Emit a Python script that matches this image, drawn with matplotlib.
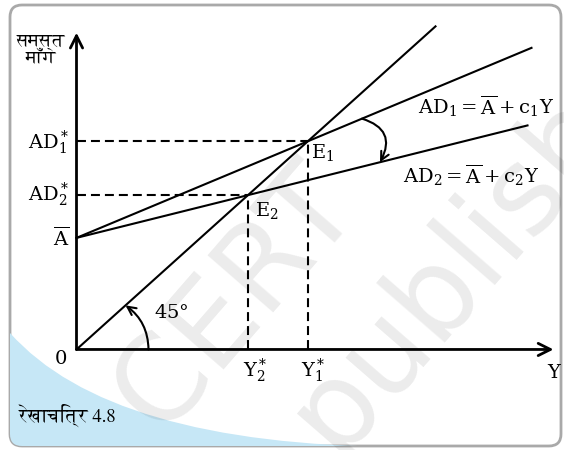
import matplotlib
matplotlib.use('Agg')
import matplotlib.pyplot as plt
from matplotlib.patches import FancyBboxPatch, PathPatch
from matplotlib.path import Path

# values (units chosen so the 45 degree line is AD = Y)
a_bar = 124
c1 = 0.464
c2 = 0.277
end_45 = 359
end_ad1 = 455
end_ad2 = 451
x_axis_end = 477
y_axis_end = 352

y1_star = a_bar / (1 - c1)
y2_star = a_bar / (1 - c2)

lbl_ad1 = r'$\mathrm{AD}_1 = \overline{\mathrm{A}} + \mathrm{c}_1\mathrm{Y}$'
lbl_ad2 = r'$\mathrm{AD}_2 = \overline{\mathrm{A}} + \mathrm{c}_2\mathrm{Y}$'
ylabel_hi = 'समस्त\nमाँग'
caption = 'रेखाचित्र 4.8'
hindi_fam = ['FreeSerif', 'DejaVu Serif']

plt.rcParams['font.family'] = 'DejaVu Serif'
plt.rcParams['mathtext.fontset'] = 'dejavuserif'

fig = plt.figure(figsize=(5.64, 4.5), dpi=100)

# background panel in pixel units
bg = fig.add_axes([0, 0, 1, 1])
bg.set_xlim(0, 564)
bg.set_ylim(450, 0)
bg.axis('off')
frame = FancyBboxPatch((10, 5), 551, 441, boxstyle='round,pad=0,rounding_size=12',
                       fc='white', ec='#a9a9a9', lw=2)
bg.add_patch(frame)
swoosh = Path([(10, 333), (110, 445), (400, 447), (400, 460), (0, 460), (0, 333), (10, 333)],
              [Path.MOVETO, Path.CURVE3, Path.CURVE3, Path.LINETO, Path.LINETO, Path.LINETO,
               Path.CLOSEPOLY])
blue = PathPatch(swoosh, fc='#c6e7f6', ec='none')
bg.add_patch(blue)
blue.set_clip_path(frame)
# faint watermark
bg.text(235, 298, 'CERT', rotation=49, rotation_mode='anchor', ha='center', va='center',
        fontsize=86, family='DejaVu Sans', color='k', alpha=0.08)
bg.text(452, 272, 'publish', rotation=49, rotation_mode='anchor', ha='center', va='center',
        fontsize=86, family='DejaVu Sans', color='k', alpha=0.08)

ax = fig.add_axes([0, 0, 1, 1])
ax.set_xlim(-76.5, 487.5)
ax.set_ylim(-111.7, 388.3)
ax.axis('off')

arrow = dict(arrowstyle='->', lw=2.0, color='k', mutation_scale=22, shrinkA=0, shrinkB=0)
ax.annotate('', xy=(x_axis_end, 0), xytext=(0, 0), arrowprops=arrow)
ax.annotate('', xy=(0, y_axis_end), xytext=(0, 0), arrowprops=arrow)

ax.plot([0, end_45], [0, end_45], color='k', lw=1.5)
ax.plot([0, end_ad1], [a_bar, a_bar + c1 * end_ad1], color='k', lw=1.5)
ax.plot([0, end_ad2], [a_bar, a_bar + c2 * end_ad2], color='k', lw=1.5)

dash = (0, (4.3, 2.4))
for ys in [y1_star, y2_star]:
    ax.plot([0, ys], [ys, ys], color='k', lw=1.5, ls=dash)
    ax.plot([ys, ys], [0, ys], color='k', lw=1.5, ls=dash)

# curved arrows
ax.annotate('', xy=(49, 49), xytext=(72, 0),
            arrowprops=dict(arrowstyle='->', lw=1.5, color='k', mutation_scale=15,
                            connectionstyle='arc3,rad=0.25', shrinkA=0, shrinkB=0))
xa, xb = 285.5, 303.5
ax.annotate('', xy=(xb, a_bar + c2 * xb), xytext=(xa, a_bar + c1 * xa),
            arrowprops=dict(arrowstyle='->', lw=1.5, color='k', mutation_scale=15,
                            connectionstyle='arc3,rad=-0.6', shrinkA=0, shrinkB=0))

fs = 14
ax.annotate(r'$\mathrm{AD}_1^*$', xy=(0, y1_star), xytext=(-5, -1), textcoords='offset points',
            ha='right', va='center', fontsize=fs)
ax.annotate(r'$\mathrm{AD}_2^*$', xy=(0, y2_star), xytext=(-5, 0), textcoords='offset points',
            ha='right', va='center', fontsize=fs)
ax.annotate(r'$\overline{\mathrm{A}}$', xy=(0, a_bar), xytext=(-5, 0), textcoords='offset points',
            ha='right', va='center', fontsize=fs)
ax.annotate('0', xy=(0, 0), xytext=(-11, -7), textcoords='offset points',
            ha='center', va='center', fontsize=fs)
ax.annotate(r'$\mathrm{Y}_2^*$', xy=(y2_star, 0), xytext=(5, -15), textcoords='offset points',
            ha='center', va='center', fontsize=fs)
ax.annotate(r'$\mathrm{Y}_1^*$', xy=(y1_star, 0), xytext=(4, -15), textcoords='offset points',
            ha='center', va='center', fontsize=fs)
ax.annotate('Y', xy=(x_axis_end, 0), xytext=(0, -17), textcoords='offset points',
            ha='center', va='center', fontsize=fs)
ax.annotate(r'$\mathrm{E}_1$', xy=(y1_star, y1_star), xytext=(2, -8), textcoords='offset points',
            ha='left', va='center', fontsize=fs)
ax.annotate(r'$\mathrm{E}_2$', xy=(y2_star, y2_star), xytext=(5, -11), textcoords='offset points',
            ha='left', va='center', fontsize=fs)
ax.text(95, 40, r'45$\degree$', ha='center', va='center', fontsize=fs)
ax.text(341.5, 270, lbl_ad1, ha='left', va='center', fontsize=fs)
ax.text(326.5, 194, lbl_ad2, ha='left', va='center', fontsize=fs)

ax.text(-35.5, 332, ylabel_hi, ha='center', va='center', fontsize=13, family=hindi_fam,
        multialignment='center', linespacing=1.0)
ax.text(-56.5, -72.8, caption, ha='left', va='center', fontsize=13.5, family=hindi_fam)

fig.savefig('out.png', dpi=100)
